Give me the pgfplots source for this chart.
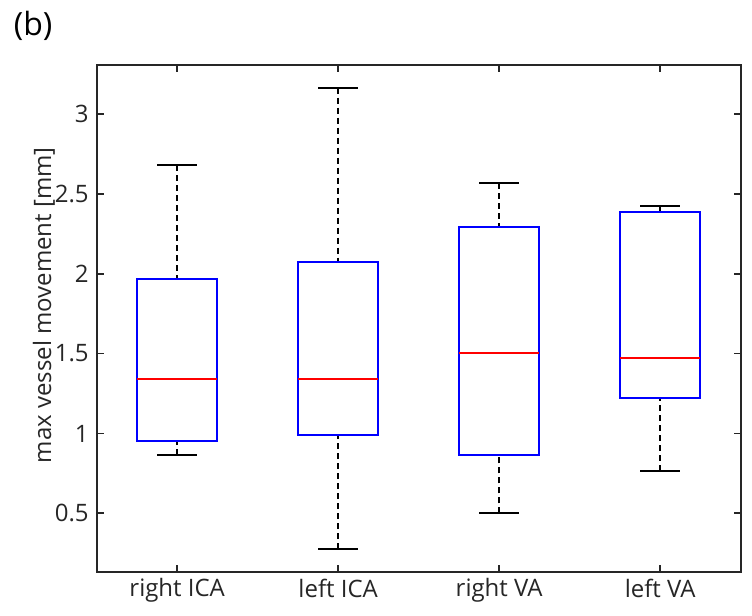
\documentclass[border=0pt]{standalone}
\usepackage{pgfplots}
\pgfplotsset{compat=1.18}
\usepgfplotslibrary{statistics}
\usepackage{fontspec}
\setmainfont{Open Sans}

\definecolor{axisgray}{RGB}{38,38,38}
\definecolor{mblue}{RGB}{0,0,255}
\definecolor{mred}{RGB}{255,0,0}

\tikzset{
  whiskerline/.style={black, line width=0.8pt, dash pattern=on 3pt off 2pt},
  whiskercap/.style={black, line width=1pt, solid},
}

% MATLAB style: dashed whisker stem, solid cap
\pgfplotsset{
  boxplot/draw/lower whisker/.code={%
    \draw[whiskerline]
      (boxplot cs:\pgfplotsboxplotvalue{lower whisker}) --
      (boxplot cs:\pgfplotsboxplotvalue{lower quartile});
    \draw[whiskercap]
      (boxplot whisker cs:\pgfplotsboxplotvalue{lower whisker},0) --
      (boxplot whisker cs:\pgfplotsboxplotvalue{lower whisker},1);
  },
  boxplot/draw/upper whisker/.code={%
    \draw[whiskerline]
      (boxplot cs:\pgfplotsboxplotvalue{upper whisker}) --
      (boxplot cs:\pgfplotsboxplotvalue{upper quartile});
    \draw[whiskercap]
      (boxplot whisker cs:\pgfplotsboxplotvalue{upper whisker},0) --
      (boxplot whisker cs:\pgfplotsboxplotvalue{upper whisker},1);
  },
}

\begin{document}
\begin{tikzpicture}
\useasboundingbox (-48.35pt,-22.15pt) rectangle (327.65pt,285.85pt);
\begin{axis}[
  scale only axis,
  width=322pt, height=253.5pt,
  xmin=0.5, xmax=4.5,
  ymin=0.135, ymax=3.308,
  xtick={1,2,3,4},
  xticklabels={right ICA, left ICA, right VA, left VA},
  ytick={0.5,1,1.5,2,2.5,3},
  tick align=inside,
  major tick length=3.5pt,
  axis line style={axisgray, line width=0.9pt},
  every tick/.style={axisgray, line width=0.9pt},
  /pgf/number format/assume math mode=true,
  ticklabel style={font=\fontsize{12}{14}\selectfont, text=axisgray},
  yticklabel style={xshift=-0.5pt},
  ylabel={max vessel movement [mm]},
  ylabel style={font=\fontsize{12}{14}\selectfont, text=axisgray,
    at={(axis description cs:0,0.5)}, anchor=center,
    xshift=6.5pt, yshift=26.35pt},
  boxplot/draw direction=y,
  boxplot/box extend=0.5,
  boxplot/whisker extend=0.25,
  boxplot/every box/.style={draw=mblue, line width=1pt, solid},
  boxplot/every median/.style={draw=mred, line width=1pt, solid},
]
\addplot[boxplot prepared={draw position=1,
  lower whisker=0.865, lower quartile=0.953, median=1.343,
  upper quartile=1.965, upper whisker=2.678}] coordinates {};
\addplot[boxplot prepared={draw position=2,
  lower whisker=0.277, lower quartile=0.993, median=1.339,
  upper quartile=2.075, upper whisker=3.164}] coordinates {};
\addplot[boxplot prepared={draw position=3,
  lower whisker=0.500, lower quartile=0.867, median=1.504,
  upper quartile=2.294, upper whisker=2.566}] coordinates {};
\addplot[boxplot prepared={draw position=4,
  lower whisker=0.767, lower quartile=1.220, median=1.472,
  upper quartile=2.388, upper whisker=2.422}] coordinates {};
\end{axis}
\node[anchor=west, inner sep=0pt, font=\fontsize{16}{18}\selectfont]
  at (-41.65pt,273pt) {(b)};
\end{tikzpicture}
\end{document}
